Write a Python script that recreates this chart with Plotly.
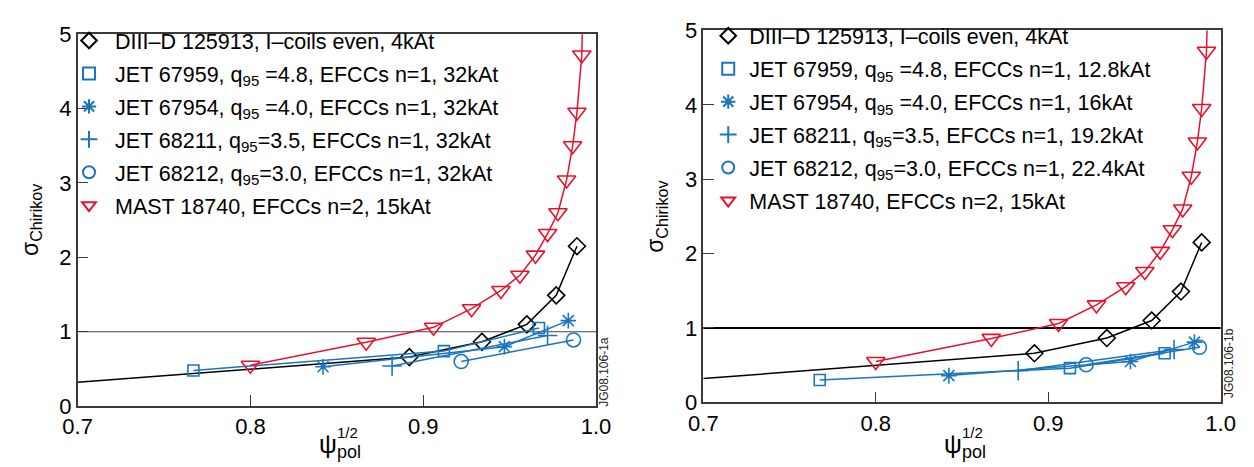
import plotly.graph_objects as go

# ---------------- data ----------------
# DIII-D 125913 (same in both panels); first point is line-only
DIIID_X = [0.700, 0.892, 0.934, 0.960, 0.977, 0.989]
DIIID_Y = [0.32, 0.66, 0.865, 1.10, 1.49, 2.15]

# MAST 18740 (same in both panels); last point is line-only (line leaves the top)
MAST_X = [0.800, 0.867, 0.906, 0.928, 0.945, 0.956, 0.965, 0.972, 0.978, 0.983, 0.9865, 0.989, 0.9918, 0.9925]
MAST_Y = [0.55, 0.86, 1.06, 1.31, 1.555, 1.76, 2.03, 2.32, 2.60, 3.04, 3.50, 3.95, 4.72, 5.40]

# JET, panel a (32 kAt)
JET59_X_A = [0.767, 0.912, 0.967]
JET59_Y_A = [0.48, 0.74, 1.05]
JET54_X_A = [0.842, 0.947, 0.984]
JET54_Y_A = [0.53, 0.80, 1.15]
JET11_X_A = [0.882, 0.972]
JET11_Y_A = [0.54, 0.95]
JET12_X_A = [0.922, 0.987]
JET12_Y_A = [0.60, 0.89]

# JET, panel b (scaled currents)
JET59_X_B = [0.7675, 0.9126, 0.9675]
JET59_Y_B = [0.30, 0.46, 0.66]
JET54_X_B = [0.8424, 0.9477, 0.9848]
JET54_Y_B = [0.36, 0.55, 0.81]
JET11_X_B = [0.8826, 0.973]
JET11_Y_B = [0.425, 0.71]
JET12_X_B = [0.922, 0.9877]
JET12_Y_B = [0.505, 0.74]

LABELS_A = [
    "DIII\u2013D 125913, I\u2013coils even, 4kAt",
    "JET 67959, q<sub>95</sub> =4.8, EFCCs n=1, 32kAt",
    "JET 67954, q<sub>95</sub> =4.0, EFCCs n=1, 32kAt",
    "JET 68211, q<sub>95</sub>=3.5, EFCCs n=1, 32kAt",
    "JET 68212, q<sub>95</sub>=3.0, EFCCs n=1, 32kAt",
    "MAST 18740, EFCCs n=2, 15kAt",
]
LABELS_B = [
    "DIII\u2013D 125913, I\u2013coils even, 4kAt",
    "JET 67959, q<sub>95</sub> =4.8, EFCCs n=1, 12.8kAt",
    "JET 67954, q<sub>95</sub> =4.0, EFCCs n=1, 16kAt",
    "JET 68211, q<sub>95</sub>=3.5, EFCCs n=1, 19.2kAt",
    "JET 68212, q<sub>95</sub>=3.0, EFCCs n=1, 22.4kAt",
    "MAST 18740, EFCCs n=2, 15kAt",
]
X_TICKS = [0.7, 0.8, 0.9, 1.0]
Y_TICKS = [0, 1, 2, 3, 4, 5]

# ---------------- style ----------------
BLACK = "#000000"
BLUE = "#1b75bc"
RED = "#e8112d"
FONT = "Liberation Sans, Arial, sans-serif"
W, H = 1254, 467

fig = go.Figure()


def add_series(x, y, lx, ly, name, color, symbol, size, xa, ya, leg, group, lw=1.5):
    fig.add_trace(go.Scatter(x=lx, y=ly, mode="lines", line=dict(color=color, width=lw),
                             xaxis=xa, yaxis=ya, showlegend=False, hoverinfo="skip",
                             cliponaxis=True))
    fig.add_trace(go.Scatter(x=x, y=y, mode="markers", name=name,
                             marker=dict(symbol=symbol, size=size, color=color,
                                         line=dict(color=color, width=1.6)),
                             xaxis=xa, yaxis=ya, legend=leg, legendgroup=group + leg,
                             cliponaxis=False))


panels = [
    ("x", "y", "legend", LABELS_A,
     [(JET59_X_A, JET59_Y_A), (JET54_X_A, JET54_Y_A), (JET11_X_A, JET11_Y_A), (JET12_X_A, JET12_Y_A)]),
    ("x2", "y2", "legend2", LABELS_B,
     [(JET59_X_B, JET59_Y_B), (JET54_X_B, JET54_Y_B), (JET11_X_B, JET11_Y_B), (JET12_X_B, JET12_Y_B)]),
]
jet_symbols = [("square-open", 11), ("asterisk-open", 13), ("cross-thin-open", 14), ("circle-open", 14)]

for xa, ya, leg, labels, jets in panels:
    add_series(DIIID_X[1:], DIIID_Y[1:], DIIID_X, DIIID_Y, labels[0], BLACK,
               "diamond-open", 13, xa, ya, leg, "d")
    for i, ((jx, jy), (sym, sz)) in enumerate(zip(jets, jet_symbols)):
        add_series(jx, jy, jx, jy, labels[i + 1], BLUE, sym, sz, xa, ya, leg, "j%d" % i)
    add_series(MAST_X[:-1], MAST_Y[:-1], MAST_X, MAST_Y, labels[5], RED,
               "triangle-down-open", 16, xa, ya, leg, "m")

axis_common = dict(
    showgrid=False, zeroline=False, showline=True, mirror=True,
    linecolor="#3a3a3a", linewidth=1.5, ticks="inside", ticklen=11, tickwidth=1.2,
    tickcolor="#3a3a3a", tickfont=dict(family=FONT, size=22, color="black"),
)

def px_x(a, b):
    return [a / W, b / W]

def px_y(top, bottom):
    return [1 - bottom / H, 1 - top / H]

DOM_A = (56, 587)
DOM_B = (697, 1227)
YDOM_A = (15, 408)
YDOM_B = (11, 404)

fig.update_layout(
    width=W, height=H, margin=dict(l=0, r=0, t=0, b=0),
    paper_bgcolor="white", plot_bgcolor="white",
    font=dict(family=FONT, size=21.5, color="black"),
    xaxis=dict(domain=px_x(*DOM_A), range=[0.7, 1.0], tickvals=X_TICKS, tickformat=".1f",
               anchor="y", **axis_common),
    yaxis=dict(domain=px_y(*YDOM_A), range=[0, 5], tickvals=Y_TICKS, anchor="x", **axis_common),
    xaxis2=dict(domain=px_x(*DOM_B), range=[0.7, 1.0], tickvals=X_TICKS, tickformat=".1f",
                anchor="y2", **axis_common),
    yaxis2=dict(domain=px_y(*YDOM_B), range=[0, 5], tickvals=Y_TICKS, anchor="x2", **axis_common),
    legend=dict(x=41 / W, y=1.0, xanchor="left", yanchor="top", bgcolor="rgba(0,0,0,0)",
                font=dict(size=21.5), tracegroupgap=2, itemsizing="constant", itemwidth=42),
    legend2=dict(x=701 / W, y=1 + 5 / H, xanchor="left", yanchor="top", bgcolor="rgba(0,0,0,0)",
                 font=dict(size=21.5), tracegroupgap=2, itemsizing="constant", itemwidth=32),
)

fig.add_hline(y=1, line=dict(color="#444444", width=1.2), xref="x", yref="y", layer="below")
fig.add_shape(type="line", xref="x2 domain", yref="y2", x0=0, x1=1, y0=1, y1=1,
              line=dict(color="black", width=2.2), layer="below")

# axis titles
for (a, b), (t, bt) in ((DOM_A, YDOM_A), (DOM_B, YDOM_B)):
    cx = (a + b) / 2 - 9
    fig.add_annotation(text="\u03c8", xref="paper", yref="paper", x=cx / W, y=1 - 448 / H,
                       xanchor="center", yanchor="middle", showarrow=False,
                       font=dict(size=25, color="black"))
    fig.add_annotation(text="1/2", xref="paper", yref="paper", x=(cx + 7) / W, y=1 - 436 / H,
                       xanchor="left", yanchor="middle", showarrow=False,
                       font=dict(size=15, color="black"))
    fig.add_annotation(text="pol", xref="paper", yref="paper", x=(cx + 7) / W, y=1 - 456 / H,
                       xanchor="left", yanchor="middle", showarrow=False,
                       font=dict(size=18, color="black"))
    fig.add_annotation(text="\u03c3<sub>Chirikov</sub>", xref="paper", yref="paper",
                       x=(a - 48) / W, y=1 - ((t + bt) / 2) / H, textangle=-90,
                       xanchor="center", yanchor="middle", showarrow=False,
                       font=dict(size=23, color="black"))

fig.add_annotation(text="JG08.106-1a", xref="paper", yref="paper", x=595 / W, y=1 - 372 / H,
                   xanchor="center", yanchor="middle",
                   textangle=-90, showarrow=False, font=dict(size=12, color="#222"))
fig.add_annotation(text="JG08.106-1b", xref="paper", yref="paper", x=1235 / W, y=1 - 362 / H,
                   xanchor="center", yanchor="middle",
                   textangle=-90, showarrow=False, font=dict(size=12, color="#222"))

fig.write_html("out.html")
